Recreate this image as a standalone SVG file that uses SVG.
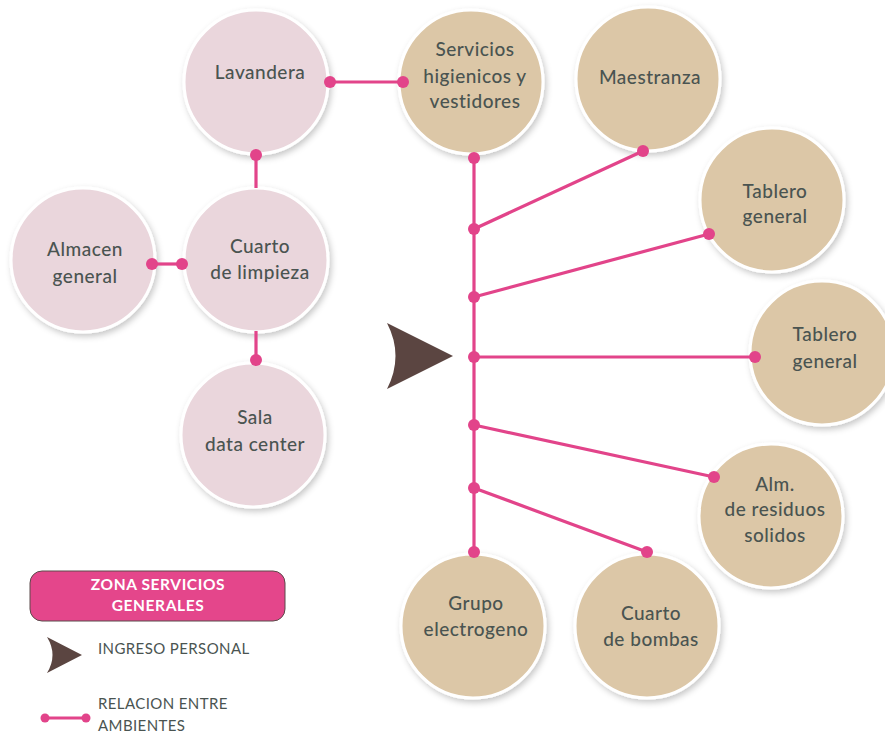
<svg xmlns="http://www.w3.org/2000/svg" width="885" height="734" viewBox="0 0 885 734">
<defs>
<filter id="sh" x="-20%" y="-20%" width="140%" height="140%">
<feDropShadow dx="2" dy="3" stdDeviation="3" flood-color="#000" flood-opacity="0.22"/>
</filter>
</defs>
<style>
.pk{fill:#ead6dc;stroke:#fff;stroke-width:3;filter:url(#sh)}
.tn{fill:#dcc7a7;stroke:#fff;stroke-width:3;filter:url(#sh)}
.t{font-family:Lato,"Noto Sans",sans-serif;font-size:19px;font-weight:500;letter-spacing:0.5px;fill:#4a5451;text-anchor:middle}
.ln{stroke:#e2448a;stroke-width:3.2;fill:none}
.dt{fill:#e2448a}
.lg{font-family:Lato,"Noto Sans",sans-serif;font-size:15px;letter-spacing:0.4px;fill:#4a5451}
.ar{fill:#5b4541}
</style>
<rect width="885" height="734" fill="#fff"/>
<g id="lavandera"><circle class="pk" cx="256" cy="82" r="72"/><text class="t" x="260" y="79">Lavandera</text></g>
<g id="almacen"><circle class="pk" cx="83" cy="260" r="72"/><text class="t" x="85" y="256">Almacen</text><text class="t" x="85" y="283">general</text></g>
<g id="limpieza"><circle class="pk" cx="256" cy="260" r="72"/><text class="t" x="260" y="253">Cuarto</text><text class="t" x="260" y="279">de limpieza</text></g>
<g id="sala"><circle class="pk" cx="253" cy="435" r="72"/><text class="t" x="255" y="424">Sala</text><text class="t" x="255" y="451">data center</text></g>
<g id="servicios"><circle class="tn" cx="471" cy="82" r="72"/><text class="t" x="475" y="56">Servicios</text><text class="t" x="475" y="83">higienicos y</text><text class="t" x="475" y="108">vestidores</text></g>
<g id="maestranza"><circle class="tn" cx="648" cy="79" r="72"/><text class="t" x="650" y="84">Maestranza</text></g>
<g id="tablero1"><circle class="tn" cx="772" cy="200" r="72"/><text class="t" x="775" y="198">Tablero</text><text class="t" x="775" y="223">general</text></g>
<g id="tablero2"><circle class="tn" cx="822" cy="353" r="72"/><text class="t" x="825" y="341">Tablero</text><text class="t" x="825" y="368">general</text></g>
<g id="residuos"><circle class="tn" cx="771" cy="516" r="72"/><text class="t" x="775" y="491">Alm.</text><text class="t" x="775" y="516">de residuos</text><text class="t" x="775" y="542">solidos</text></g>
<g id="grupo"><circle class="tn" cx="473" cy="626" r="72"/><text class="t" x="476" y="610">Grupo</text><text class="t" x="476" y="636">electrogeno</text></g>
<g id="bombas"><circle class="tn" cx="647" cy="626" r="72"/><text class="t" x="651" y="620">Cuarto</text><text class="t" x="651" y="646">de bombas</text></g>
<g id="ingreso"><path class="ar" d="M387,323 L453,356 L387,389 Q404,356 387,323 Z"/></g>
<g id="connectors">
<line class="ln" x1="330" y1="82" x2="403" y2="82"/>
<line class="ln" x1="256" y1="155" x2="256" y2="188"/>
<line class="ln" x1="152" y1="264" x2="182" y2="264"/>
<line class="ln" x1="256" y1="331" x2="256" y2="360"/>
<line class="ln" x1="474" y1="158" x2="474" y2="552"/>
<line class="ln" x1="474" y1="229" x2="643" y2="151"/>
<line class="ln" x1="474" y1="297" x2="709" y2="234"/>
<line class="ln" x1="474" y1="357" x2="755" y2="357"/>
<line class="ln" x1="474" y1="425" x2="714" y2="477"/>
<line class="ln" x1="474" y1="488" x2="647" y2="552"/>
<circle class="dt" cx="330" cy="82" r="6"/>
<circle class="dt" cx="403" cy="82" r="6"/>
<circle class="dt" cx="256" cy="155" r="6"/>
<circle class="dt" cx="152" cy="264" r="6"/>
<circle class="dt" cx="182" cy="264" r="6"/>
<circle class="dt" cx="256" cy="360" r="6"/>
<circle class="dt" cx="474" cy="158" r="6"/>
<circle class="dt" cx="474" cy="229" r="6"/>
<circle class="dt" cx="474" cy="297" r="6"/>
<circle class="dt" cx="474" cy="357" r="6"/>
<circle class="dt" cx="474" cy="425" r="6"/>
<circle class="dt" cx="474" cy="488" r="6"/>
<circle class="dt" cx="474" cy="552" r="6"/>
<circle class="dt" cx="643" cy="151" r="6"/>
<circle class="dt" cx="709" cy="234" r="6"/>
<circle class="dt" cx="755" cy="357" r="6"/>
<circle class="dt" cx="714" cy="477" r="6"/>
<circle class="dt" cx="647" cy="552" r="6"/>
</g>
<g id="legend">
<rect x="30" y="571" width="255" height="50" rx="12" fill="#e4468b" stroke="#5b4a4a" stroke-width="1"/>
<text x="158" y="590" font-family="Lato,'Noto Sans',sans-serif" font-size="15.5" font-weight="bold" letter-spacing="0.6" fill="#fff" text-anchor="middle">ZONA SERVICIOS</text>
<text x="158" y="611" font-family="Lato,'Noto Sans',sans-serif" font-size="15.5" font-weight="bold" letter-spacing="0.6" fill="#fff" text-anchor="middle">GENERALES</text>
<path class="ar" d="M47,637 L82,655 L47,673 Q58,655 47,637 Z"/>
<text class="lg" x="98" y="654">INGRESO PERSONAL</text>
<line class="ln" x1="45" y1="718" x2="86" y2="718" stroke-width="2.5"/>
<circle class="dt" cx="45" cy="718" r="4.5"/>
<circle class="dt" cx="86" cy="718" r="4.5"/>
<text class="lg" x="98" y="709">RELACION ENTRE</text>
<text class="lg" x="98" y="731">AMBIENTES</text>
</g>
</svg>
